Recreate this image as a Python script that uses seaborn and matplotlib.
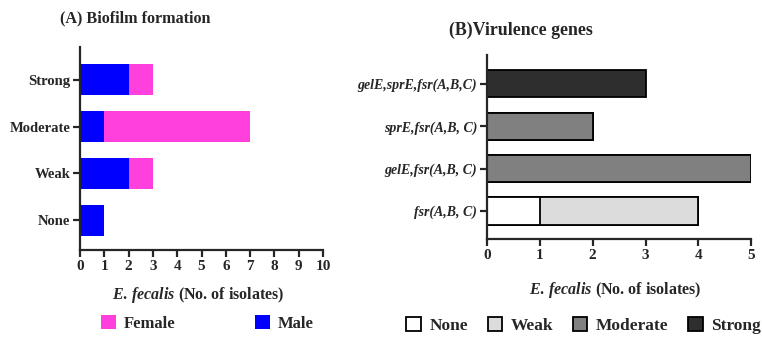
import matplotlib
matplotlib.use("Agg")
import matplotlib.pyplot as plt
import seaborn as sns
import pandas as pd
from matplotlib.patches import Patch

# ---- Data ----
biofilm_levels = ["Strong", "Moderate", "Weak", "None"]
male_counts = [2, 1, 2, 1]
female_counts = [1, 6, 1, 0]

gene_groups = ["gelE,sprE,fsr(A,B,C)", "sprE,fsr(A,B, C)", "gelE,fsr(A,B, C)", "fsr(A,B, C)"]
none_counts = [0, 0, 0, 1]
weak_counts = [0, 0, 0, 3]
moderate_counts = [0, 2, 5, 0]
strong_counts = [3, 0, 0, 0]

left_ticks = list(range(0, 11))
right_ticks = list(range(0, 6))

# ---- Style ----
sns.set_style("ticks")
plt.rcParams["font.family"] = ["Liberation Serif", "DejaVu Serif"]
plt.rcParams["font.weight"] = "bold"
plt.rcParams["mathtext.fontset"] = "custom"
plt.rcParams["mathtext.rm"] = "Liberation Serif:bold"
plt.rcParams["mathtext.it"] = "Liberation Serif:italic:bold"
plt.rcParams["axes.linewidth"] = 1.6

pink = "#ff40dd"
blue = "#0000ff"
c_none, c_weak, c_mod, c_strong = "#ffffff", "#dcdcdc", "#808080", "#2e2e2e"

fig = plt.figure(figsize=(7.62, 3.38), dpi=100)
axA = fig.add_axes([0.105, 0.260, 0.319, 0.601])
axB = fig.add_axes([0.639, 0.293, 0.347, 0.544])

# ---- Panel A ----
dfA = pd.DataFrame({"level": biofilm_levels,
                    "male": male_counts,
                    "total": [m + f for m, f in zip(male_counts, female_counts)]})
sns.barplot(data=dfA, x="total", y="level", orient="h", color=pink,
            width=0.66, ax=axA, saturation=1, linewidth=0)
sns.barplot(data=dfA, x="male", y="level", orient="h", color=blue,
            width=0.66, ax=axA, saturation=1, linewidth=0)
axA.set_xlim(0, 10)
axA.set_ylim(3.64, -0.7)
axA.set_xticks(left_ticks)
axA.set_xticklabels([str(t) for t in left_ticks], fontsize=11, fontweight="bold")
axA.set_yticklabels(biofilm_levels, fontsize=10.5, fontweight="bold")
axA.set_xlabel("")
axA.set_ylabel("")
axA.tick_params(axis="both", width=1.6, length=5, pad=2)
sns.despine(ax=axA)

# ---- Panel B ----
cum_none = none_counts
cum_weak = [a + b for a, b in zip(cum_none, weak_counts)]
cum_mod = [a + b for a, b in zip(cum_weak, moderate_counts)]
cum_strong = [a + b for a, b in zip(cum_mod, strong_counts)]
dfB = pd.DataFrame({"group": gene_groups, "none": cum_none, "weak": cum_weak,
                    "mod": cum_mod, "strong": cum_strong})
for col, colr in [("strong", c_strong), ("mod", c_mod), ("weak", c_weak), ("none", c_none)]:
    sns.barplot(data=dfB, x=col, y="group", orient="h", color=colr, width=0.64,
                ax=axB, saturation=1, edgecolor="black", linewidth=1.3)
axB.set_xlim(0, 5)
axB.set_ylim(3.66, -0.68)
axB.set_xticks(right_ticks)
axB.set_xticklabels([str(t) for t in right_ticks], fontsize=11, fontweight="bold")
axB.set_yticklabels(gene_groups, fontsize=10, fontweight="bold", fontstyle="italic")
axB.set_xlabel("")
axB.set_ylabel("")
axB.tick_params(axis="both", width=1.6, length=5, pad=2)
sns.despine(ax=axB)

# ---- Titles and labels ----
fig.text(0.177, 0.947, "(A) Biofilm formation", fontsize=11.6, fontweight="bold",
         ha="center", va="center")
fig.text(0.684, 0.911, "(B)Virulence genes", fontsize=12.9, fontweight="bold",
         ha="center", va="center")
fig.text(0.260, 0.127, r"$\it{E.\,fecalis}$ (No. of isolates)", fontsize=11.5,
         fontweight="bold", ha="center", va="center")
fig.text(0.808, 0.142, r"$\it{E.\,fecalis}$ (No. of isolates)", fontsize=11.5,
         fontweight="bold", ha="center", va="center")

# ---- Legends ----
hA = [Patch(facecolor=pink, edgecolor="none", label="Female"),
      Patch(facecolor=blue, edgecolor="none", label="Male")]
fig.legend(handles=hA, loc="center", bbox_to_anchor=(0.272, 0.043), ncol=2,
           frameon=False, handlelength=0.9, handleheight=0.9,
           handletextpad=0.45, columnspacing=4.8, prop={"weight": "bold", "size": 12})
hB = [Patch(facecolor=c_none, edgecolor="black", linewidth=1.3, label="None"),
      Patch(facecolor=c_weak, edgecolor="black", linewidth=1.3, label="Weak"),
      Patch(facecolor=c_mod, edgecolor="black", linewidth=1.3, label="Moderate"),
      Patch(facecolor=c_strong, edgecolor="black", linewidth=1.3, label="Strong")]
fig.legend(handles=hB, loc="center", bbox_to_anchor=(0.766, 0.036), ncol=4,
           frameon=False, handlelength=0.85, handleheight=0.85,
           handletextpad=0.5, columnspacing=1.1, prop={"weight": "bold", "size": 12.5})

fig.savefig("out.png", dpi=100)
